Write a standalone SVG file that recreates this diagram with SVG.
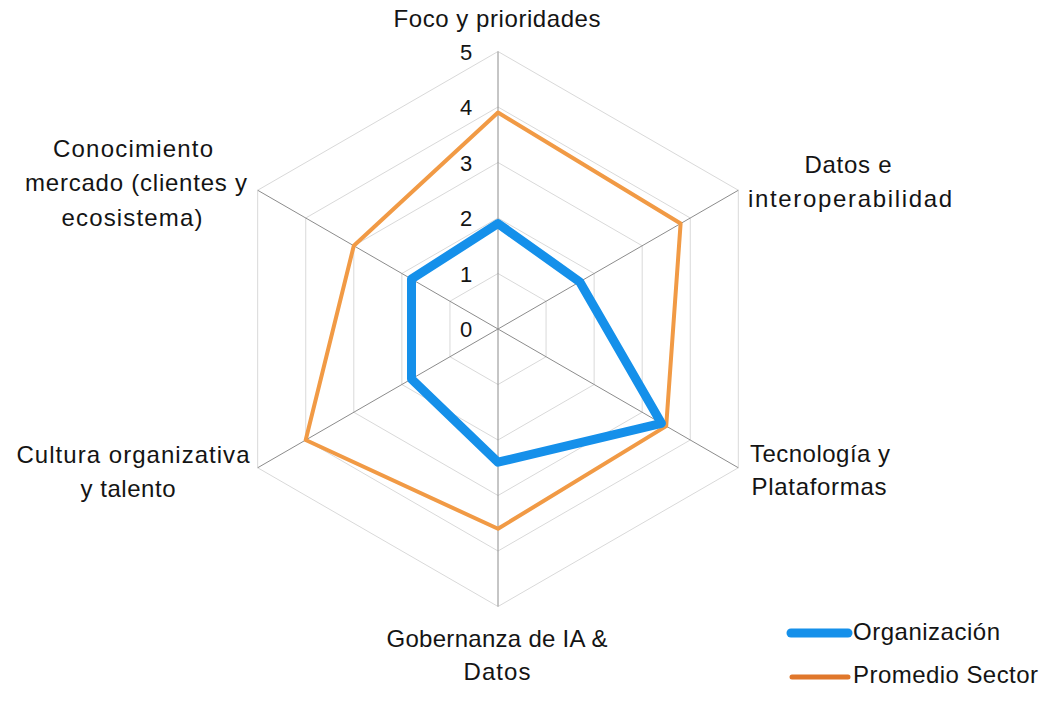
<svg xmlns="http://www.w3.org/2000/svg" width="1060" height="701" viewBox="0 0 1060 701">
<style>
.ring{fill:none;stroke:#d9d9d9;stroke-width:1}
.axis{stroke:#8c8c8c;stroke-width:1}
.lbl{font-family:"Liberation Sans",Arial,sans-serif;font-size:24px;fill:#141414;text-anchor:middle}
.num{font-family:"Liberation Sans",Arial,sans-serif;font-size:22px;fill:#141414;text-anchor:middle}
.org{fill:none;stroke:#1590ea;stroke-width:9;stroke-linejoin:round}
.avg{fill:none;stroke:#f19a45;stroke-width:4;stroke-linejoin:round}
</style>
<rect width="1060" height="701" fill="#ffffff"/>
<g id="grid">
<polygon class="ring" points="498,273.5 546.06,301.25 546.06,356.75 498,384.5 449.94,356.75 449.94,301.25"/>
<polygon class="ring" points="498,218 594.13,273.5 594.13,384.5 498,440 401.87,384.5 401.87,273.5"/>
<polygon class="ring" points="498,162.5 642.19,245.75 642.19,412.25 498,495.5 353.81,412.25 353.81,245.75"/>
<polygon class="ring" points="498,107 690.26,218 690.26,440 498,551 305.74,440 305.74,218"/>
<polygon class="ring" points="498,51.5 738.32,190.25 738.32,467.75 498,606.5 257.68,467.75 257.68,190.25"/>
</g>
<g id="axes">
<line class="axis" x1="498" y1="329" x2="498" y2="51.5"/>
<line class="axis" x1="498" y1="329" x2="738.32" y2="190.25"/>
<line class="axis" x1="498" y1="329" x2="738.32" y2="467.75"/>
<line class="axis" x1="498" y1="329" x2="498" y2="606.5"/>
<line class="axis" x1="498" y1="329" x2="257.68" y2="467.75"/>
<line class="axis" x1="498" y1="329" x2="257.68" y2="190.25"/>
</g>
<g id="scale">
<text class="num" x="466" y="337">0</text>
<text class="num" x="466" y="281.5">1</text>
<text class="num" x="466" y="226">2</text>
<text class="num" x="466" y="170.5">3</text>
<text class="num" x="466" y="115">4</text>
<text class="num" x="466" y="59.5">5</text>
</g>
<g id="connectors">
<polygon id="promedio" class="avg" points="498,112.55 680.6,223.55 666.2,426.1 498,528.8 305.7,440 353.8,245.75"/>
<polygon id="organizacion" class="org" points="498,223.55 579.7,281.8 661.4,423.35 498,462.2 411.5,378.95 411.5,279.05"/>
</g>
<g id="labels">
<text id="foco" class="lbl" x="497" y="27" textLength="207">Foco y prioridades</text>
<g id="datos-e">
<text class="lbl" x="848" y="173" textLength="87">Datos e</text>
<text class="lbl" x="850" y="207" textLength="204">interoperabilidad</text>
</g>
<g id="tecnologia">
<text class="lbl" x="820" y="462" textLength="140">Tecnología y</text>
<text class="lbl" x="819" y="495" textLength="135">Plataformas</text>
</g>
<g id="gobernanza">
<text class="lbl" x="497" y="647" textLength="221">Gobernanza de IA &amp;</text>
<text class="lbl" x="497" y="680" textLength="67">Datos</text>
</g>
<g id="cultura">
<text class="lbl" x="133" y="463" textLength="233">Cultura organizativa</text>
<text class="lbl" x="128" y="497" textLength="95">y talento</text>
</g>
<g id="conocimiento">
<text class="lbl" x="133" y="157" textLength="160">Conocimiento</text>
<text class="lbl" x="136" y="191" textLength="222">mercado (clientes y</text>
<text class="lbl" x="132" y="226" textLength="141">ecosistema)</text>
</g>
</g>
<g id="legend">
<line x1="791" y1="633" x2="848" y2="633" stroke="#1590ea" stroke-width="9" stroke-linecap="round"/>
<text class="lbl" x="853" y="640" style="text-anchor:start" textLength="147">Organización</text>
<line x1="792" y1="677" x2="848" y2="677" stroke="#e0772b" stroke-width="5" stroke-linecap="round"/>
<text class="lbl" x="853" y="683" style="text-anchor:start" textLength="185">Promedio Sector</text>
</g>
</svg>
